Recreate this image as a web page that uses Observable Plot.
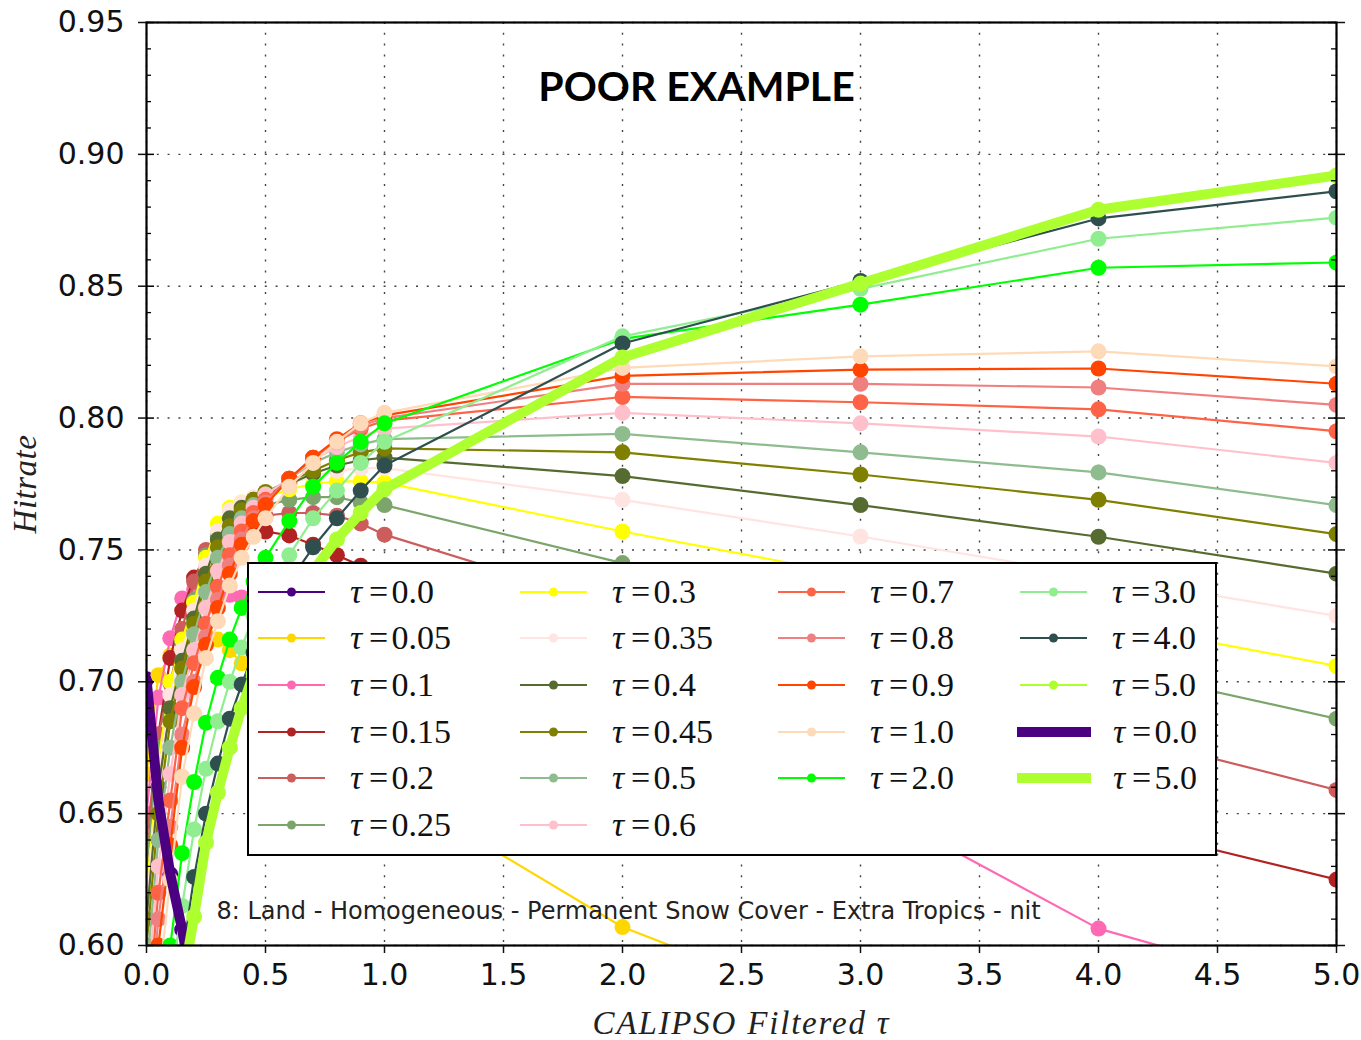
<!DOCTYPE html>
<html><head><meta charset="utf-8">
<script src="https://cdn.jsdelivr.net/npm/d3@7"></script>
<script src="https://cdn.jsdelivr.net/npm/@observablehq/plot@0.6"></script>
<style>
body{margin:0;background:#fff;}
#wrap{position:relative;width:1361px;height:1040px;}
#legend{position:absolute;left:247px;top:562px;width:966px;height:290px;border:2px solid #000;background:#fff;}
.entry{position:absolute;display:flex;align-items:center;height:40px;}
.entry svg{display:block;flex:none}
.lab{font-family:"Liberation Serif",serif;font-size:34px;color:#111;white-space:nowrap;}
.lab i{margin-right:0.2em}
.lab .eq{margin-right:0.1em}
</style>
</head><body>
<div id="wrap"></div>
<script>
// CALIPSO filtered tau (x values)
const calipsoTau = [0,0.05,0.1,0.15,0.2,0.25,0.3,0.35,0.4,0.45,0.5,0.6,0.7,0.8,0.9,1.0,2.0,3.0,4.0,5.0];
// Hitrate for each threshold tau
const hit_0_00 = [0.701,0.655,0.627,0.606,0.580,0.562,0.548,0.537,0.528,0.520,0.513,0.502,0.493,0.486,0.480,0.475,0.440,0.420,0.405,0.395];
const hit_0_05 = [0.665,0.7025,0.710,0.715,0.718,0.718,0.716,0.712,0.707,0.702,0.697,0.688,0.680,0.673,0.667,0.661,0.607,0.572,0.530,0.490];
const hit_0_10 = [0.650,0.694,0.7165,0.7316,0.735,0.735,0.734,0.733,0.732,0.731,0.730,0.728,0.726,0.724,0.722,0.720,0.695,0.655,0.6064,0.581];
const hit_0_15 = [0.630,0.680,0.709,0.727,0.7395,0.748,0.752,0.755,0.757,0.757,0.757,0.7555,0.752,0.748,0.744,0.740,0.705,0.675,0.647,0.625];
const hit_0_20 = [0.640,0.680,0.6995,0.720,0.738,0.750,0.755,0.758,0.760,0.762,0.763,0.764,0.764,0.763,0.760,0.7558,0.728,0.705,0.682,0.659];
const hit_0_25 = [0.630,0.675,0.687,0.715,0.731,0.748,0.755,0.760,0.763,0.765,0.767,0.769,0.770,0.770,0.768,0.767,0.745,0.726,0.706,0.686];
const hit_0_30 = [0.620,0.670,0.700,0.716,0.730,0.747,0.760,0.766,0.768,0.769,0.770,0.773,0.775,0.776,0.776,0.7755,0.757,0.740,0.723,0.706];
const hit_0_35 = [0.615,0.665,0.695,0.712,0.727,0.744,0.757,0.765,0.768,0.770,0.771,0.775,0.778,0.780,0.781,0.781,0.769,0.7551,0.740,0.725];
const hit_0_40 = [0.610,0.660,0.690,0.708,0.724,0.741,0.754,0.762,0.766,0.769,0.771,0.775,0.779,0.782,0.784,0.785,0.778,0.767,0.755,0.741];
const hit_0_45 = [0.600,0.650,0.685,0.705,0.722,0.738,0.751,0.759,0.765,0.769,0.772,0.776,0.780,0.784,0.787,0.7885,0.787,0.7786,0.769,0.756];
const hit_0_50 = [0.590,0.640,0.675,0.700,0.718,0.734,0.747,0.756,0.762,0.767,0.771,0.777,0.783,0.787,0.790,0.792,0.794,0.787,0.7794,0.767];
const hit_0_60 = [0.580,0.630,0.665,0.695,0.712,0.728,0.742,0.753,0.760,0.766,0.771,0.777,0.784,0.789,0.793,0.796,0.802,0.798,0.793,0.783];
const hit_0_70 = [0.570,0.620,0.655,0.690,0.707,0.722,0.736,0.748,0.757,0.764,0.769,0.777,0.785,0.791,0.796,0.799,0.808,0.806,0.8033,0.795];
const hit_0_80 = [0.560,0.610,0.645,0.680,0.700,0.717,0.731,0.744,0.754,0.762,0.768,0.777,0.785,0.791,0.797,0.800,0.813,0.813,0.8116,0.805];
const hit_0_90 = [0.550,0.600,0.638,0.675,0.698,0.714,0.728,0.741,0.752,0.761,0.767,0.777,0.785,0.792,0.798,0.801,0.816,0.8184,0.8188,0.813];
const hit_1_00 = [0.540,0.585,0.625,0.664,0.688,0.709,0.723,0.7365,0.747,0.755,0.762,0.774,0.783,0.791,0.798,0.802,0.819,0.8234,0.8253,0.8196];
const hit_2_00 = [0.520,0.560,0.600,0.635,0.662,0.6845,0.7015,0.716,0.728,0.738,0.747,0.761,0.774,0.783,0.791,0.798,0.830,0.843,0.857,0.859];
const hit_3_00 = [0.510,0.550,0.585,0.615,0.644,0.667,0.685,0.700,0.713,0.725,0.735,0.748,0.762,0.7725,0.783,0.791,0.831,0.849,0.868,0.876];
const hit_4_00 = [0.500,0.535,0.565,0.595,0.626,0.650,0.669,0.686,0.699,0.711,0.722,0.738,0.751,0.762,0.7725,0.782,0.8283,0.852,0.8757,0.886];
const hit_5_00 = [0.495,0.525,0.555,0.585,0.611,0.639,0.658,0.675,0.690,0.703,0.715,0.730,0.742,0.754,0.764,0.773,0.823,0.851,0.879,0.892];

const tauLabels = ["0.0","0.05","0.1","0.15","0.2","0.25","0.3","0.35","0.4","0.45","0.5","0.6","0.7","0.8","0.9","1.0","2.0","3.0","4.0","5.0"];
const seriesColors = ["#4B0082","#FFD700","#FF69B4","#B22222","#CD5C5C","#7CA56C","#FFFF00","#FFE4E1","#556B2F","#808000","#8FBC8F","#FFC0CB","#FF6347","#F08080","#FF4500","#FFDAB9","#00FF00","#90EE90","#2F4F4F","#ADFF2F"];
const xTicks = [0,0.5,1,1.5,2,2.5,3,3.5,4,4.5,5];
const yTicks = [0.60,0.65,0.70,0.75,0.80,0.85,0.90,0.95];
const yMinor = [0.61,0.62,0.63,0.64,0.66,0.67,0.68,0.69,0.71,0.72,0.73,0.74,0.76,0.77,0.78,0.79,0.81,0.82,0.83,0.84,0.86,0.87,0.88,0.89,0.91,0.92,0.93,0.94];
const titleText = "POOR EXAMPLE";
const captionText = "8: Land - Homogeneous - Permanent Snow Cover - Extra Tropics - nit";
const xLabel = "CALIPSO Filtered τ";
const yLabel = "Hitrate";

const allSeries = [hit_0_00,hit_0_05,hit_0_10,hit_0_15,hit_0_20,hit_0_25,hit_0_30,hit_0_35,hit_0_40,hit_0_45,hit_0_50,hit_0_60,hit_0_70,hit_0_80,hit_0_90,hit_1_00,hit_2_00,hit_3_00,hit_4_00,hit_5_00];
const tables = allSeries.map((vals, i) => calipsoTau.map((x, j) => ({x, y: vals[j], tau: tauLabels[i]})));

const W = 1361, H = 1040, mL = 146, mR = 25, mT = 22, mB = 95;
const innerW = W - mL - mR;

const seriesMarks = tables.flatMap((t, i) => [
  Plot.line(t, {x: "x", y: "y", stroke: seriesColors[i], strokeWidth: 2.2, clip: true}),
  Plot.dot(t, {x: "x", y: "y", fill: seriesColors[i], r: 8, clip: true})
]);

const chart = Plot.plot({
  width: W, height: H,
  marginLeft: mL, marginRight: mR, marginTop: mT, marginBottom: mB,
  x: {domain: [0, 5]},
  y: {domain: [0.6, 0.95]},
  style: {fontFamily: "DejaVu Sans", background: "white", color: "#111"},
  marks: [
    Plot.gridX(xTicks, {stroke: "#222", strokeOpacity: 0.85, strokeWidth: 1.4, strokeDasharray: "2,8.8"}),
    Plot.gridY(yTicks, {stroke: "#222", strokeOpacity: 0.85, strokeWidth: 1.4, strokeDasharray: "2,8.8"}),
    ...seriesMarks,
    Plot.line(tables[0], {x: "x", y: "y", stroke: seriesColors[0], strokeWidth: 10, clip: true}),
    Plot.line(tables[19], {x: "x", y: "y", stroke: seriesColors[19], strokeWidth: 10, clip: true}),
    Plot.text([titleText], {frameAnchor: "top", dx: -45, dy: 65, lineAnchor: "middle", fontSize: 41, fontWeight: "bold", fontFamily: "Lato", fill: "#000"}),
    Plot.text([captionText], {frameAnchor: "bottom-left", textAnchor: "start", lineAnchor: "middle", dx: 70, dy: -34, fontSize: 24, fill: "#222"}),
    Plot.tickY(yMinor, {y: d => d, insetRight: innerW - 5, stroke: "#000", strokeWidth: 1.3}),
    Plot.tickY(yMinor, {y: d => d, insetLeft: innerW - 5, stroke: "#000", strokeWidth: 1.3}),
    Plot.tickY(yTicks, {y: d => d, insetRight: innerW - 8, stroke: "#000", strokeWidth: 1.5}),
    Plot.tickY(yTicks, {y: d => d, insetLeft: innerW - 8, stroke: "#000", strokeWidth: 1.5}),
    Plot.frame({stroke: "#000", strokeWidth: 2.2}),
    Plot.axisX({ticks: xTicks, tickSize: 8, tickPadding: 10, tickFormat: d3.format(".1f"), fontSize: 30, label: null, strokeWidth: 1.5}),
    Plot.axisY({ticks: yTicks, tickSize: 8, tickPadding: 14, tickFormat: d3.format(".2f"), fontSize: 30, label: null, strokeWidth: 1.5}),
    Plot.axisY({anchor: "right", ticks: yTicks, tickSize: 8, tickFormat: () => "", label: null, strokeWidth: 1.5}),
    Plot.text([yLabel], {frameAnchor: "left", textAnchor: "middle", lineAnchor: "middle", rotate: -90, dx: -121, fontSize: 33, fontStyle: "italic", fontFamily: "Liberation Serif", fill: "#222"}),
    Plot.text([xLabel], {frameAnchor: "bottom", textAnchor: "middle", dy: 78, lineAnchor: "middle", fontSize: 33, fontStyle: "italic", fontFamily: "Liberation Serif", fill: "#222"})
  ]
});

// widen the italic axis titles a little (mathtext look)
d3.select(chart).selectAll("text").filter(function() { return this.textContent === xLabel; }).attr("letter-spacing", "1.8px");
d3.select(chart).selectAll("text").filter(function() { return this.textContent === yLabel; }).attr("letter-spacing", "0.5px");

const wrap = document.getElementById("wrap");
wrap.appendChild(chart);

// Legend (overlay box inside the axes, 4 columns)
const legend = document.createElement("div");
legend.id = "legend";
wrap.appendChild(legend);
const entries = tauLabels.map((lab, i) => ({lab, color: seriesColors[i], thick: false}))
  .concat([{lab: tauLabels[0], color: seriesColors[0], thick: true}, {lab: tauLabels[19], color: seriesColors[19], thick: true}]);
const colStart = [0, 6, 12, 17];
const colLeft = [9, 271, 529, 771];
const rowCenter = [28, 74, 121, 168, 214, 261];
entries.forEach((e, i) => {
  const col = i < 6 ? 0 : i < 12 ? 1 : i < 17 ? 2 : 3;
  const row = i - colStart[col];
  const div = document.createElement("div");
  div.className = "entry";
  div.style.left = (colLeft[col] - (e.thick ? 3 : 0)) + "px";
  div.style.top = (rowCenter[row] - 20) + "px";
  const len = e.thick ? 74 : 67;
  const svg = e.thick
    ? `<svg width="${len}" height="20"><line x1="0" x2="${len}" y1="10" y2="10" stroke="${e.color}" stroke-width="10"/></svg>`
    : `<svg width="${len}" height="20"><line x1="0" x2="${len}" y1="10" y2="10" stroke="${e.color}" stroke-width="2.2"/><circle cx="${len/2}" cy="10" r="4.5" fill="${e.color}"/></svg>`;
  div.innerHTML = svg + `<span class="lab" style="margin-left:${e.thick ? 22 : 25}px"><i>τ</i><span class="eq">=</span>${e.lab}</span>`;
  legend.appendChild(div);
});
</script>
</body></html>
